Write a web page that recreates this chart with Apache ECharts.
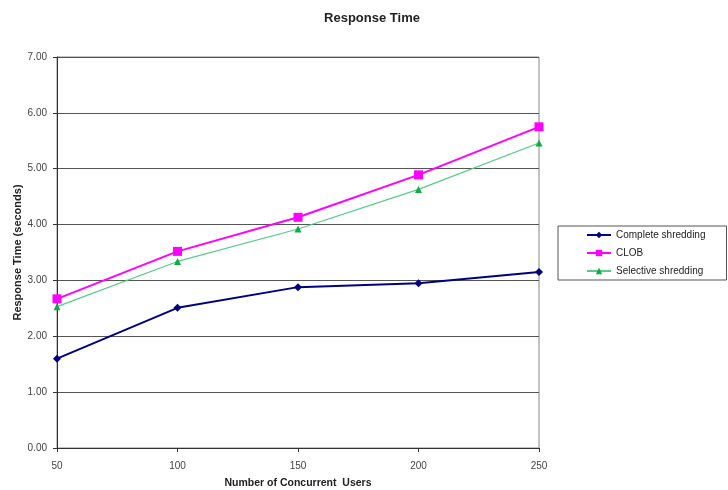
<!DOCTYPE html>
<html>
<head>
<meta charset="utf-8">
<script src="https://cdn.jsdelivr.net/npm/echarts@6/dist/echarts.min.js"></script>
<style>
  html, body { margin: 0; padding: 0; background: #fff; }
  #chart { width: 728px; height: 490px; }
</style>
</head>
<body>
<div id="chart"></div>
<script>
// Concurrent users on the x axis
const users = [50, 100, 150, 200, 250];
// Response time in seconds for each storage approach
const completeShredding = [1.60, 2.51, 2.88, 2.95, 3.15];
const clob = [2.67, 3.52, 4.13, 4.89, 5.75];
const selectiveShredding = [2.53, 3.34, 3.92, 4.63, 5.46];
const seriesNames = ['Complete shredding', 'CLOB', 'Selective shredding'];

const font = 'Liberation Sans, Arial, sans-serif';
const pairs = (ys) => users.map((u, i) => [u, ys[i]]);

const chart = echarts.init(document.getElementById('chart'));
chart.setOption({
  animation: false,
  backgroundColor: '#fff',
  title: {
    text: 'Response Time',
    left: 367, top: 7, textAlign: 'center',
    textStyle: { fontFamily: font, fontSize: 13, fontWeight: 'bold', color: '#222' }
  },
  grid: {
    left: 57, right: 189, top: 57, bottom: 42,
    outerBoundsMode: 'none', containLabel: false,
    show: true, borderColor: '#888', borderWidth: 1
  },
  legend: {
    orient: 'vertical',
    left: 558, top: 226,
    padding: [4, 21, 4, 28],
    itemGap: 8,
    itemWidth: 24, itemHeight: 8,
    borderColor: '#555', borderWidth: 1,
    textStyle: { fontFamily: font, fontSize: 10, color: '#222' },
    data: seriesNames
  },
  xAxis: {
    type: 'value',
    min: 50, max: 250, interval: 50,
    name: 'Number of Concurrent  Users',
    nameLocation: 'middle', nameGap: 30,
    nameMoveOverlap: false,
    nameTextStyle: { fontFamily: font, fontSize: 10.5, fontWeight: 'bold', color: '#222' },
    axisLine: { show: true, onZero: false, lineStyle: { color: '#333', width: 1 } },
    axisTick: { show: true, length: 4, lineStyle: { color: '#333' } },
    axisLabel: { fontFamily: font, fontSize: 10, color: '#444', margin: 13 },
    splitLine: { show: false }
  },
  yAxis: {
    type: 'value',
    min: 0, max: 7, interval: 1,
    name: 'Response Time (seconds)',
    nameLocation: 'middle', nameGap: 34,
    nameMoveOverlap: false,
    nameTextStyle: { fontFamily: font, fontSize: 11, fontWeight: 'bold', color: '#222' },
    axisLine: { show: true, lineStyle: { color: '#333', width: 1 } },
    axisTick: { show: true, length: 4, lineStyle: { color: '#333' } },
    axisLabel: {
      fontFamily: font, fontSize: 10, color: '#444', margin: 10,
      formatter: (v) => v.toFixed(2)
    },
    splitLine: { show: true, lineStyle: { color: '#555', width: 1 } }
  },
  series: [
    {
      name: seriesNames[0], type: 'line', data: pairs(completeShredding),
      symbol: 'diamond', symbolSize: 8,
      lineStyle: { color: '#000080', width: 2 },
      itemStyle: { color: '#000080' }
    },
    {
      name: seriesNames[1], type: 'line', data: pairs(clob),
      symbol: 'rect', symbolSize: 9,
      lineStyle: { color: '#ff00ff', width: 2 },
      itemStyle: { color: '#ff00ff' }
    },
    {
      name: seriesNames[2], type: 'line', data: pairs(selectiveShredding),
      symbol: 'triangle', symbolSize: 7,
      lineStyle: { color: '#55cc88', width: 1.2 },
      itemStyle: { color: '#11aa44' }
    }
  ]
});
</script>
</body>
</html>
